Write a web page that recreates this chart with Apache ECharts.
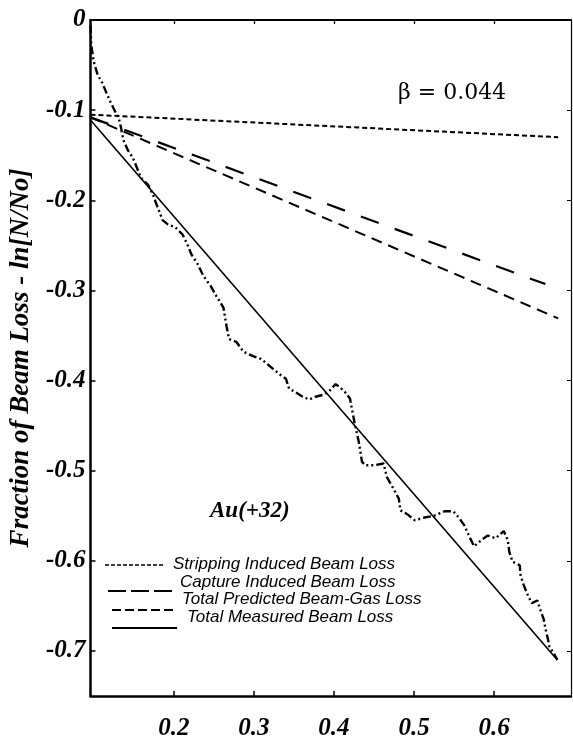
<!DOCTYPE html>
<html>
<head>
<meta charset="utf-8">
<script src="https://cdn.jsdelivr.net/npm/echarts@6/dist/echarts.min.js"></script>
<style>
  html, body { margin: 0; padding: 0; background: #fff; }
  #chart { width: 573px; height: 741px; }
</style>
</head>
<body>
<div id="chart"></div>
<script>
// Axis ticks
const xTicks = [0.2, 0.3, 0.4, 0.5, 0.6];
const yTicks = [0, -0.1, -0.2, -0.3, -0.4, -0.5, -0.6, -0.7];

// Model beam-loss lines (start / end points)
const strippingLoss = [[0.096, -0.105], [0.680, -0.130]];
const captureLoss   = [[0.096, -0.108], [0.664, -0.293]];
const predictedLoss = [[0.096, -0.108], [0.680, -0.331]];
const measuredFit   = [[0.096, -0.111], [0.679, -0.710]];

// Measured beam loss trace
const measuredX = [0.096, 0.097, 0.100, 0.105, 0.111, 0.116, 0.121, 0.127, 0.131, 0.134,
  0.137, 0.143, 0.149, 0.154, 0.159, 0.168, 0.174, 0.180, 0.186, 0.193,
  0.202, 0.211, 0.217, 0.222, 0.230, 0.237, 0.246, 0.253, 0.262, 0.266,
  0.269, 0.278, 0.287, 0.299, 0.309, 0.324, 0.332, 0.340, 0.344, 0.352,
  0.361, 0.369, 0.377, 0.386, 0.394, 0.402, 0.407, 0.414, 0.420, 0.423,
  0.426, 0.431, 0.435, 0.439, 0.450, 0.462, 0.466, 0.473, 0.481, 0.483,
  0.491, 0.501, 0.513, 0.525, 0.538, 0.549, 0.556, 0.563, 0.569, 0.575,
  0.584, 0.592, 0.602, 0.612, 0.617, 0.619, 0.623, 0.632, 0.633, 0.637,
  0.642, 0.647, 0.654, 0.658, 0.662, 0.664, 0.667, 0.669, 0.674, 0.679];
const measuredY = [-0.006, -0.028, -0.046, -0.061, -0.070, -0.081, -0.091, -0.102, -0.108, -0.119,
  -0.133, -0.145, -0.153, -0.164, -0.175, -0.183, -0.194, -0.208, -0.222, -0.227,
  -0.230, -0.238, -0.249, -0.260, -0.271, -0.284, -0.295, -0.306, -0.319, -0.340,
  -0.354, -0.357, -0.368, -0.373, -0.376, -0.387, -0.393, -0.398, -0.409, -0.413,
  -0.418, -0.421, -0.418, -0.416, -0.412, -0.404, -0.407, -0.413, -0.420, -0.434,
  -0.448, -0.468, -0.490, -0.494, -0.494, -0.492, -0.507, -0.518, -0.531, -0.544,
  -0.548, -0.555, -0.552, -0.550, -0.545, -0.545, -0.552, -0.561, -0.573, -0.584,
  -0.577, -0.572, -0.575, -0.567, -0.577, -0.590, -0.601, -0.605, -0.616, -0.627,
  -0.638, -0.647, -0.644, -0.655, -0.665, -0.675, -0.686, -0.695, -0.702, -0.710];

const legendItems = [
  { text: 'Stripping Induced Beam Loss',     lx1: 105, lx2: 165, ly: 565, tx: 173, ty: 564, dash: [4, 2],  width: 1.5 },
  { text: 'Capture Induced Beam Loss',       lx1: 108, lx2: 172, ly: 591, tx: 180, ty: 582, dash: [18, 5], width: 2 },
  { text: 'Total Predicted Beam-Gas Loss',   lx1: 112, lx2: 175, ly: 610, tx: 182, ty: 599, dash: [9, 4],  width: 2 },
  { text: 'Total Measured Beam Loss',        lx1: 112, lx2: 177, ly: 628, tx: 187, ty: 617, dash: 'solid', width: 2 }
];

const tickFont = {
  fontFamily: 'Liberation Serif', fontWeight: 'bold', fontStyle: 'italic',
  fontSize: 25, color: '#000'
};

const chart = echarts.init(document.getElementById('chart'), null, { renderer: 'canvas' });

const lineSeries = (data, dash, width) => ({
  type: 'line', data, symbol: 'none', silent: true, animation: false,
  lineStyle: { color: '#000', width, type: dash }
});

const graphics = [];
legendItems.forEach(it => {
  graphics.push({
    type: 'line', silent: true,
    shape: { x1: it.lx1, y1: it.ly, x2: it.lx2, y2: it.ly },
    style: { stroke: '#000', lineWidth: it.width, lineDash: it.dash === 'solid' ? null : it.dash }
  });
  graphics.push({
    type: 'text', silent: true, x: it.tx, y: it.ty,
    style: {
      text: it.text, fill: '#000', font: 'italic 17px "Liberation Sans"',
      verticalAlign: 'middle'
    }
  });
});
graphics.push({
  type: 'text', silent: true, x: 398, y: 93,
  style: { text: 'β = 0.044', fill: '#000', font: '22px "DejaVu Serif"', verticalAlign: 'middle' }
});
graphics.push({
  type: 'text', silent: true, x: 210, y: 511,
  style: { text: 'Au(+32)', fill: '#000', font: 'italic bold 23px "Liberation Serif"', verticalAlign: 'middle' }
});

chart.setOption({
  backgroundColor: '#fff',
  animation: false,
  grid: { left: 86, right: 2, top: 20, bottom: 43, containLabel: false },
  xAxis: [
    {
      type: 'value', min: 0.096, max: 0.696, position: 'bottom',
      axisLine: { show: true, onZero: false, lineStyle: { color: '#000', width: 2.5 } },
      axisTick: { show: true, inside: true, length: 5, customValues: xTicks, lineStyle: { color: '#000', width: 1.5 } },
      axisLabel: Object.assign({ customValues: xTicks, margin: 20, formatter: v => v.toFixed(1) }, tickFont),
      splitLine: { show: false }
    },
    {
      type: 'value', min: 0.096, max: 0.696, position: 'top',
      axisLine: { show: true, onZero: false, lineStyle: { color: '#000', width: 2 } },
      axisTick: { show: true, inside: true, length: 4, customValues: xTicks, lineStyle: { color: '#000', width: 1.2 } },
      axisLabel: { show: false },
      splitLine: { show: false }
    }
  ],
  yAxis: [
    {
      type: 'value', min: -0.75, max: 0, position: 'left',
      name: 'Fraction of Beam Loss - ln[N/No]',
      nameLocation: 'middle', nameGap: 50,
      nameTextStyle: {
        fontFamily: 'Liberation Serif', fontWeight: 'bold', fontStyle: 'italic',
        fontSize: 27, color: '#000'
      },
      axisLine: { show: true, onZero: false, lineStyle: { color: '#000', width: 2.5 } },
      axisTick: { show: true, inside: true, length: 5, customValues: yTicks, lineStyle: { color: '#000', width: 1.5 } },
      axisLabel: Object.assign({ customValues: yTicks, margin: 5, formatter: v => (v === 0 ? '0' : v.toFixed(1)) }, tickFont),
      splitLine: { show: false }
    },
    {
      type: 'value', min: -0.75, max: 0, position: 'right',
      axisLine: { show: true, onZero: false, lineStyle: { color: '#000', width: 1.2 } },
      axisTick: { show: true, inside: true, length: 4, customValues: yTicks, lineStyle: { color: '#000', width: 1 } },
      axisLabel: { show: false },
      splitLine: { show: false }
    }
  ],
  series: [
    lineSeries(strippingLoss, [5, 3], 2),
    lineSeries(captureLoss, [19, 17], 2.2),
    lineSeries(predictedLoss, [11, 7], 2),
    lineSeries(measuredFit, 'solid', 1.6),
    {
      type: 'line', symbol: 'none', silent: true, animation: false,
      data: measuredX.map((x, i) => [x, measuredY[i]]),
      lineStyle: { color: '#000', width: 2.4, type: [8, 3, 2, 3, 2, 3] }
    }
  ],
  graphic: graphics
});
</script>
</body>
</html>
